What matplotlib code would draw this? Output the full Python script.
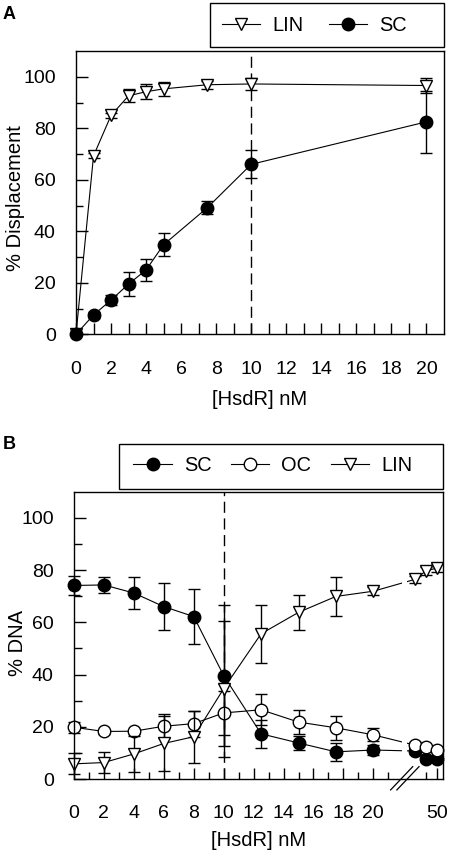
import numpy as np
import matplotlib
matplotlib.use("Agg")
import matplotlib.pyplot as plt
from matplotlib.patches import Rectangle
from matplotlib.ticker import FixedLocator, FixedFormatter, NullFormatter

plt.rcParams['font.family'] = ['Liberation Sans', 'DejaVu Sans']

# panel A data
a_x = [0, 1, 2, 3, 4, 5, 7.5, 10, 20]
a_lin = [0, 69.3, 85.0, 92.6, 94.2, 95.3, 96.9, 97.2, 96.6]
a_lin_err = [0, 1, 1, 2.5, 3, 2.8, 1.5, 2.5, 3]
a_sc = [0, 7.5, 13.3, 19.5, 25.0, 34.8, 49.2, 66.0, 82.5]
a_sc_err = [0, 1, 2, 4.7, 4.4, 4.5, 2.5, 5.5, 12]

# panel B data
b_x = [0, 2, 4, 6, 8, 10, 12.5, 15, 17.5, 20, 30, 40, 50]
b_sc = [74.1, 74.3, 71.2, 66.0, 62.2, 39.6, 17.3, 13.8, 10.4, 11.1, 10.7, 7.7, 7.5]
b_sc_err = [3.7, 3, 6, 9, 10.5, 27, 5.3, 2.7, 3.5, 2, 1, 1, 1]
b_oc = [19.8, 18.2, 18.3, 20.2, 21.2, 25.3, 26.5, 21.8, 19.6, 16.9, 13.0, 12.2, 11.0]
b_oc_err = [2, 1, 1, 4.5, 5, 8.5, 6, 4.5, 4.5, 2.5, 1, 1, 1]
b_lin = [5.8, 6.3, 9.6, 13.6, 16.2, 34.6, 55.6, 63.8, 69.9, 71.9, 76.4, 79.6, 80.8]
b_lin_err = [4, 4, 7, 10.5, 10, 26, 11, 6.6, 7.6, 1.5, 1.5, 1.5, 1.5]

a_xticks = list(range(0, 21, 2))
b_xticks = list(range(0, 21, 2)) + [50]

# broken x axis for panel B: 0-22 linear, then 30-50 compressed
bp_nm = [-5, 0, 22, 30, 70]
bp_plot = [-5, 0, 22, 22.76, 25.73]


def fwd(x):
    return np.interp(x, bp_nm, bp_plot)


def inv(x):
    return np.interp(x, bp_plot, bp_nm)


fig = plt.figure(figsize=(4.51, 8.55), dpi=100)
axA = fig.add_axes([76/451, 1-334.3/855, 368/451, 283.3/855])
axB = fig.add_axes([74/451, 1-779/855, 369/451, 287.3/855])

lin_style = dict(color='black', lw=0.8, marker='v', ms=9, mfc='white', mec='black', mew=1, clip_on=False)
sc_style = dict(color='black', lw=0.8, marker='o', ms=9, mfc='black', mec='black', mew=1, clip_on=False)
oc_style = dict(color='black', lw=0.8, marker='o', ms=9, mfc='white', mec='black', mew=1, clip_on=False)
err_style = dict(fmt='none', ecolor='black', elinewidth=1, capsize=4.5, capthick=1, clip_on=False)

tick_fs = 14
label_fs = 14.5
leg_fs = 14.4

# ---- panel A
axA.errorbar(a_x, a_lin, yerr=a_lin_err, zorder=3, **err_style)
axA.plot(a_x, a_lin, zorder=3.1, label='LIN', **lin_style)
axA.errorbar(a_x, a_sc, yerr=a_sc_err, zorder=4, **err_style)
axA.plot(a_x, a_sc, zorder=4.1, label='SC', **sc_style)
axA.axvline(10, color='black', lw=1, dashes=(8, 4), zorder=1)
axA.set_xlim(0, 21)
axA.set_ylim(0, 110)
axA.xaxis.set_major_locator(FixedLocator(a_xticks))
axA.xaxis.set_minor_locator(FixedLocator(range(1, 21, 2)))
axA.yaxis.set_major_locator(FixedLocator(range(0, 101, 20)))
axA.yaxis.set_minor_locator(FixedLocator(range(10, 101, 20)))
axA.set_xlabel('[HsdR] nM', fontsize=label_fs)
axA.set_ylabel('% Displacement', fontsize=label_fs)
axA.xaxis.set_label_coords(0.5, -0.197)
axA.yaxis.set_label_coords(-0.139, 0.48)
axA.tick_params(axis='x', which='both', direction='in', length=8, width=1, pad=19, labelsize=tick_fs)
axA.tick_params(axis='y', which='major', direction='in', length=8.6, width=1, pad=14.5, labelsize=tick_fs)
axA.tick_params(axis='y', which='minor', direction='in', length=5, width=1)

# ---- panel B
axB.set_xscale('function', functions=(fwd, inv))
axB.errorbar(b_x, b_sc, yerr=b_sc_err, zorder=3, **err_style)
axB.plot(b_x, b_sc, zorder=3.1, label='SC', **sc_style)
axB.errorbar(b_x, b_oc, yerr=b_oc_err, zorder=4, **err_style)
axB.plot(b_x, b_oc, zorder=4.1, label='OC', **oc_style)
axB.errorbar(b_x, b_lin, yerr=b_lin_err, zorder=5, **err_style)
axB.plot(b_x, b_lin, zorder=5.1, label='LIN', **lin_style)
axB.axvline(10, color='black', lw=1, dashes=(8, 4), zorder=1)
# gap in the lines at the axis break
axB.axvspan(21.9, 24.4, color='white', lw=0, zorder=6)
axB.set_xlim(0, 55.5)
axB.set_ylim(0, 110)
axB.xaxis.set_major_locator(FixedLocator(b_xticks))
axB.xaxis.set_minor_locator(FixedLocator(list(range(1, 22, 2)) + [40]))
axB.xaxis.set_major_formatter(FixedFormatter([str(t) for t in b_xticks]))
axB.xaxis.set_minor_formatter(NullFormatter())
axB.yaxis.set_major_locator(FixedLocator(range(0, 101, 20)))
axB.yaxis.set_minor_locator(FixedLocator(range(10, 101, 20)))
axB.set_xlabel('[HsdR] nM', fontsize=label_fs)
axB.set_ylabel('% DNA', fontsize=label_fs)
axB.xaxis.set_label_coords(0.5, -0.18)
axB.yaxis.set_label_coords(-0.127, 0.473)
axB.tick_params(axis='x', which='major', direction='in', length=7.7, width=1, pad=19, labelsize=tick_fs)
axB.tick_params(axis='x', which='minor', direction='in', length=5.3, width=1)
axB.tick_params(axis='y', which='major', direction='in', length=8.6, width=1, pad=14.5, labelsize=tick_fs)
axB.tick_params(axis='y', which='minor', direction='in', length=5.8, width=1)

# break marks
for dx in (0, 0.017):
    axB.plot([0.858 + dx, 0.918 + dx], [-0.038, 0.043], color='black', lw=0.9,
             transform=axB.transAxes, clip_on=False, zorder=11)

for ax in (axA, axB):
    for sp in ax.spines.values():
        sp.set_linewidth(1)
        sp.set_zorder(10)

# legends
legA = fig.legend(*axA.get_legend_handles_labels(), loc='center left',
                  bbox_to_anchor=(221.7/451, 1-25.3/855), ncol=2, frameon=False,
                  fontsize=leg_fs, borderpad=0, borderaxespad=0, handlelength=1.92,
                  handletextpad=0.62, columnspacing=1.25, numpoints=1)
legB = fig.legend(*axB.get_legend_handles_labels(), loc='center left',
                  bbox_to_anchor=(133.3/451, 1-465.5/855), ncol=3, frameon=False,
                  fontsize=leg_fs, borderpad=0, borderaxespad=0, handlelength=1.92,
                  handletextpad=0.6, columnspacing=0.98, numpoints=1)
fig.patches.append(Rectangle((210/451, 1-47/855), 234/451, 44/855, fill=False,
                             edgecolor='black', lw=1, transform=fig.transFigure))
fig.patches.append(Rectangle((119.3/451, 1-489/855), 324/451, 45/855, fill=False,
                             edgecolor='black', lw=1, transform=fig.transFigure))

fig.text(3/451, 1-19.3/855, 'A', fontsize=13, fontweight='bold', va='baseline')
fig.text(3/451, 1-449.3/855, 'B', fontsize=13, fontweight='bold', va='baseline')

fig.savefig('out.png', dpi=100)
